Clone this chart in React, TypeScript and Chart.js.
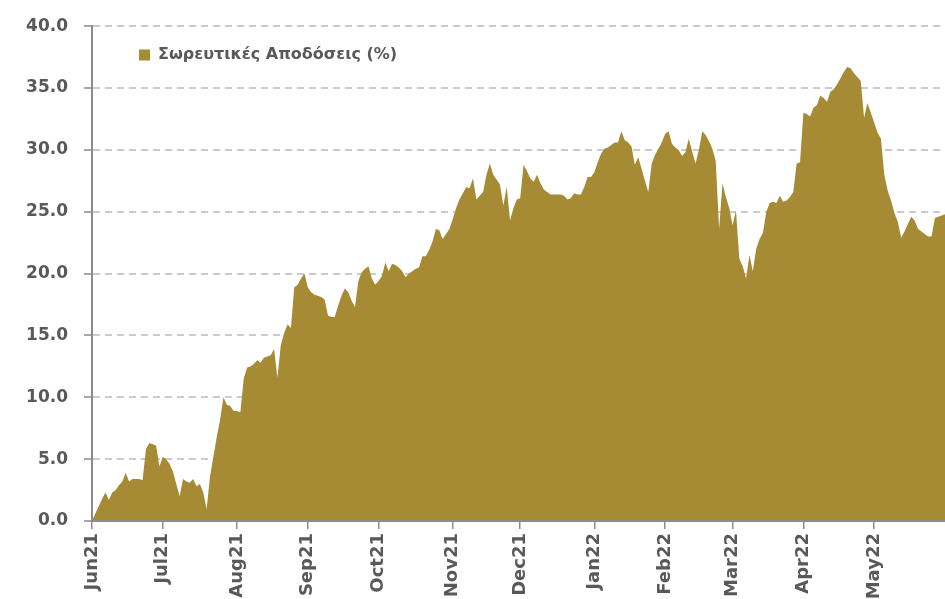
import React, { useEffect, useRef } from 'react';
import { Chart, registerables } from 'chart.js';

Chart.register(...registerables);

// Month tick labels and the index of the first trading day of each month
const monthLabels = ['Jun21', 'Jul21', 'Aug21', 'Sep21', 'Oct21', 'Nov21', 'Dec21', 'Jan22', 'Feb22', 'Mar22', 'Apr22', 'May22'];
const monthStartIndex = [0, 21, 43, 64, 85, 107, 127, 149, 170, 190, 211, 232];

// Cumulative returns (%) per trading day, grouped by month
const jun21 = [0.0, 0.6, 1.2, 1.8, 2.3, 1.7, 2.3, 2.5, 2.9, 3.2, 3.9, 3.2, 3.4, 3.4, 3.4, 3.3, 5.8, 6.3, 6.2, 6.1, 4.4];
const jul21 = [5.2, 5.0, 4.6, 4.0, 3.0, 2.0, 3.4, 3.2, 3.1, 3.4, 2.8, 3.0, 2.3, 0.95, 3.6, 5.2, 6.8, 8.2, 10.0, 9.4, 9.3, 8.9];
const aug21 = [8.9, 8.8, 11.5, 12.4, 12.5, 12.7, 13.0, 12.8, 13.2, 13.3, 13.4, 13.9, 11.6, 14.2, 15.2, 15.9, 15.6, 18.9, 19.1, 19.6, 20.0];
const sep21 = [18.9, 18.5, 18.3, 18.2, 18.1, 17.9, 16.6, 16.5, 16.5, 17.4, 18.2, 18.8, 18.5, 17.8, 17.3, 19.4, 20.1, 20.4, 20.6, 19.6, 19.1];
const oct21 = [19.4, 19.8, 20.9, 20.2, 20.8, 20.7, 20.5, 20.2, 19.7, 20.0, 20.2, 20.4, 20.5, 21.4, 21.4, 21.9, 22.6, 23.6, 23.5, 22.8, 23.2, 23.6];
const nov21 = [24.4, 25.3, 26.0, 26.5, 27.0, 26.9, 27.7, 26.0, 26.3, 26.6, 28.0, 28.9, 28.0, 27.6, 27.2, 25.5, 27.0, 24.3, 25.3, 26.0];
const dec21 = [26.1, 28.8, 28.3, 27.7, 27.4, 28.0, 27.3, 26.8, 26.6, 26.4, 26.4, 26.4, 26.4, 26.3, 26.0, 26.1, 26.5, 26.4, 26.4, 27.0, 27.8, 27.8];
const jan22 = [28.2, 29.0, 29.7, 30.1, 30.2, 30.4, 30.6, 30.6, 31.5, 30.8, 30.6, 30.3, 28.8, 29.4, 28.5, 27.5, 26.6, 28.9, 29.6, 30.1, 30.6];
const feb22 = [31.3, 31.5, 30.5, 30.2, 30.0, 29.5, 29.8, 30.9, 29.9, 28.9, 30.0, 31.5, 31.2, 30.7, 30.1, 29.1, 23.6, 27.3, 26.2, 25.3];
const mar22 = [23.9, 25.1, 21.2, 20.6, 19.6, 21.5, 20.2, 22.0, 22.8, 23.3, 25.0, 25.7, 25.8, 25.7, 26.3, 25.8, 25.9, 26.2, 26.6, 28.9, 29.0];
const apr22 = [33.0, 32.9, 32.7, 33.4, 33.6, 34.4, 34.2, 33.9, 34.7, 34.9, 35.3, 35.8, 36.3, 36.7, 36.6, 36.2, 35.9, 35.6, 32.6, 33.8, 33.0];
const may22 = [32.2, 31.4, 30.9, 28.0, 26.7, 25.9, 24.9, 24.2, 22.9, 23.4, 24.0, 24.6, 24.3, 23.6, 23.4, 23.2, 23.0, 23.0, 24.5, 24.6, 24.7, 24.8];

const cumulativeReturns = [...jun21, ...jul21, ...aug21, ...sep21, ...oct21, ...nov21, ...dec21, ...jan22, ...feb22, ...mar22, ...apr22, ...may22];

const seriesLabel = 'Σωρευτικές Αποδόσεις (%)';
const yMin = 0;
const yMax = 40;
const yStep = 5;

const FILL = '#A68A34';
const TEXT = '#595959';
const AXIS = '#8C8C8C';
const GRID = '#CBCBCB';

const legendShift = {
  id: 'legendShift',
  afterLayout(chart: any) {
    const l = chart.legend;
    if (!l) return;
    const dx = 37;
    const dy = 37;
    l.left += dx;
    l.right += dx;
    l.top += dy;
    l.bottom += dy;
  },
};

export default function App() {
  const canvasRef = useRef<HTMLCanvasElement | null>(null);

  useEffect(() => {
    if (!canvasRef.current) return;
    const chart = new Chart(canvasRef.current, {
      type: 'line',
      data: {
        datasets: [
          {
            label: seriesLabel,
            data: cumulativeReturns.map((v, i) => ({ x: i, y: v })),
            backgroundColor: FILL,
            borderColor: FILL,
            borderWidth: 0,
            pointRadius: 0,
            fill: 'origin',
            tension: 0,
          },
        ],
      },
      options: {
        animation: false,
        responsive: false,
        maintainAspectRatio: false,
        layout: { padding: { top: 25, left: 0, right: 0, bottom: 0 } },
        plugins: {
          tooltip: { enabled: false },
          legend: {
            position: 'chartArea',
            align: 'start',
            labels: {
              boxWidth: 11,
              boxHeight: 11,
              padding: 10,
              color: TEXT,
              font: { family: 'DejaVu Sans', size: 16, weight: 'bold' },
            },
          },
        },
        scales: {
          x: {
            type: 'linear',
            min: 0,
            max: cumulativeReturns.length - 1,
            afterBuildTicks: (s: any) => {
              s.ticks = monthStartIndex.map((v) => ({ value: v }));
            },
            afterFit: (s: any) => {
              s.height = 78;
            },
            ticks: {
              autoSkip: false,
              minRotation: 90,
              maxRotation: 90,
              padding: 4,
              color: TEXT,
              font: { family: 'DejaVu Sans', size: 18, weight: 'bold' },
              callback: (v: any) => {
                const k = monthStartIndex.indexOf(Number(v));
                return k >= 0 ? monthLabels[k] : '';
              },
            },
            grid: {
              drawOnChartArea: false,
              drawTicks: true,
              tickLength: 8,
              color: AXIS,
              lineWidth: 1.5,
            },
            border: { display: true, color: AXIS, width: 2, z: 1 },
          },
          y: {
            min: yMin,
            max: yMax,
            afterFit: (s: any) => {
              s.width = 92;
            },
            ticks: {
              stepSize: yStep,
              padding: 16,
              color: TEXT,
              font: { family: 'DejaVu Sans', size: 17, weight: 'bold' },
              callback: (v: any) => Number(v).toFixed(1),
            },
            grid: {
              color: GRID,
              lineWidth: 2,
              tickLength: 8,
              tickColor: '#A6A6A6',
              tickWidth: 2,
              tickBorderDash: [],
            },
            border: { display: true, color: AXIS, width: 2, dash: [7, 5], z: 1 },
          },
        },
      },
      plugins: [legendShift],
    } as any);
    return () => chart.destroy();
  }, []);

  return (
    <div style={{ position: 'absolute', left: 0, top: 0, width: 945, height: 599, background: '#fff' }}>
      <canvas ref={canvasRef} width={945} height={599} style={{ display: 'block' }} />
    </div>
  );
}
